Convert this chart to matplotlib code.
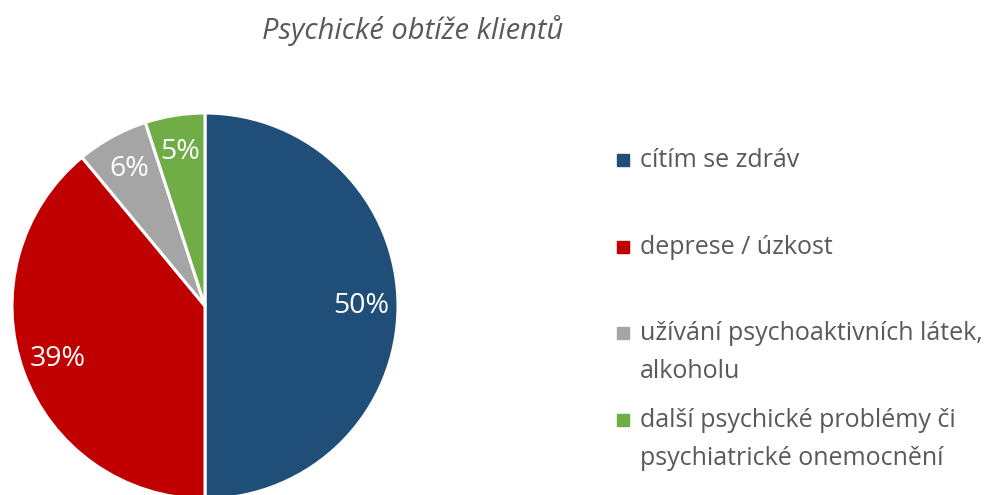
import matplotlib
matplotlib.use("Agg")
import matplotlib.pyplot as plt
from matplotlib.lines import Line2D

plt.rcParams['font.family'] = ['Open Sans', 'DejaVu Sans']

title = "Psychické obtíže klientů"
categories = ["cítím se zdráv", "deprese / úzkost",
              "užívání psychoaktivních látek,\nalkoholu",
              "další psychické problémy či\npsychiatrické onemocnění"]
values = [50, 39, 6, 5]
colors = ["#1F4E79", "#C00000", "#A5A5A5", "#70AD47"]
text_color = "#595959"

W, H = 993, 495
fig = plt.figure(figsize=(W / 100, H / 100), dpi=100)

cx, cy, r = 205, 306, 193
ax = fig.add_axes([(cx - r) / W, (H - cy - r) / H, 2 * r / W, 2 * r / H])
wedges, texts, autotexts = ax.pie(
    values, colors=colors, startangle=90, counterclock=False,
    autopct=lambda p: f"{p:.0f}%", pctdistance=0.81, radius=1,
    wedgeprops=dict(edgecolor="white", linewidth=2.2),
    textprops=dict(color="white", fontsize=20.5))
ax.set_xlim(-1, 1)
ax.set_ylim(-1, 1)
ax.set_aspect("equal")
ax.axis("off")

fig.text(413 / W, 1 - 31 / H, title, ha="center", va="center",
         fontsize=21, style="italic", color=text_color)

# manual legend (Excel style: equal spacing of entries)
ys = [160, 247, 333, 420]
for y, lab, col in zip(ys, categories, colors):
    fig.add_artist(Line2D([623 / W], [1 - y / H], marker="s", markersize=8.5,
                          color=col, linestyle="none", transform=fig.transFigure))
    first, *rest = lab.split("\n")
    fig.text(640 / W, 1 - (y + 7) / H, first, ha="left", va="baseline",
             fontsize=18, color=text_color)
    for i, line in enumerate(rest, start=1):
        fig.text(640 / W, 1 - (y + 7 + 38 * i) / H, line, ha="left", va="baseline",
                 fontsize=18, color=text_color)

fig.savefig("out.png", dpi=100)
